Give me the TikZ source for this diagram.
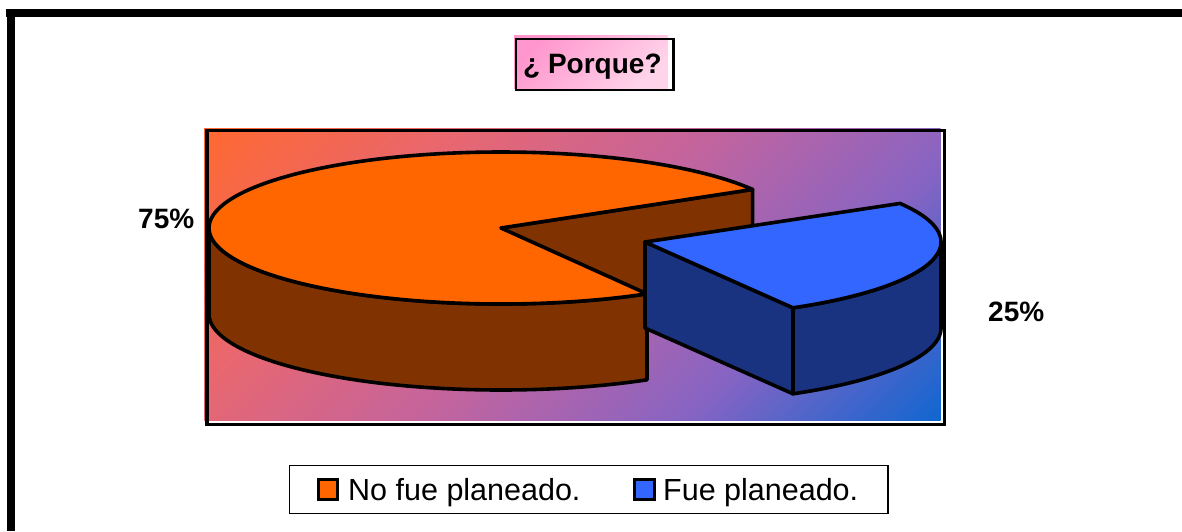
\documentclass[tikz,border=0pt]{standalone}
\usepackage{fontspec}
\setmainfont{Liberation Sans}
\definecolor{orangeTop}{RGB}{255,102,0}
\definecolor{brownSide}{RGB}{128,51,0}
\definecolor{blueTop}{RGB}{51,102,255}
\definecolor{blueSide}{RGB}{26,51,128}
\definecolor{pinkA}{RGB}{255,150,205}
\definecolor{pinkB}{RGB}{255,212,234}
\definecolor{bgA}{RGB}{17,102,208}
\definecolor{bgB}{RGB}{135,100,195}
\definecolor{bgC}{RGB}{195,100,158}
\definecolor{bgD}{RGB}{232,103,112}
\definecolor{bgE}{RGB}{255,104,48}
\pgfdeclareverticalshading{plotbg}{100bp}{color(0bp)=(bgA); color(14.6bp)=(bgA); color(32.3bp)=(bgB); color(50bp)=(bgC); color(67.7bp)=(bgD); color(85.4bp)=(bgE); color(100bp)=(bgE)}
\begin{document}
\begin{tikzpicture}[x=1pt,y=-1pt,
  outl/.style={draw=black, line width=3.6pt, line join=round, line cap=round},
  pct/.style={font=\bfseries\fontsize{28}{30}\selectfont, anchor=base west, inner sep=0pt},
  legtext/.style={font=\fontsize{30.5}{33}\selectfont, anchor=base west, inner sep=0pt},
  legkey/.style={draw=black, line width=3pt}]
\useasboundingbox (0,0) rectangle (1182,531);
% outer frame
\fill[black] (6,9) rectangle (1182,17);
\fill[black] (6.5,9) rectangle (15,531);
% title
\shade[top color=pinkA, bottom color=pinkB, shading angle=45] (514,35) rectangle (668,88);
\draw[line width=2.2pt] (516,39) rectangle (673.5,90);
\node[font=\bfseries\fontsize{28}{30}\selectfont, anchor=base west, inner sep=0pt] (title) at (523,73.5) {¿ Porque?};
% plot area
\shade[shading=plotbg, shading angle=45] (204,128) rectangle (940.5,420);
\draw[line width=3.2pt] (207,130.5) rectangle (944.5,424.5);
% orange slice: back cut face
\draw[outl, fill=brownSide] (501,228) -- ({501+292*cos(30.5)},{228-76*sin(30.5)}) -- ++(0,86) -- (501,314) -- cycle;
% orange front wall
\draw[outl, fill=brownSide] plot[domain=180:300, samples=90] ({501+292*cos(\x)},{228-76*sin(\x)})
  -- plot[domain=300:180, samples=90] ({501+292*cos(\x)},{314-76*sin(\x)}) -- cycle;
% orange top
\draw[outl, fill=orangeTop] (501,228) -- plot[domain=30.5:300, samples=200] ({501+292*cos(\x)},{228-76*sin(\x)}) -- cycle;
% blue slice: left face
\draw[outl, fill=blueSide] (645,242) -- ({645+296*cos(-60)},{242-76*sin(-60)}) -- ++(0,86) -- (645,328) -- cycle;
% blue front wall
\draw[outl, fill=blueSide] plot[domain=-60:0, samples=60] ({645+296*cos(\x)},{242-76*sin(\x)})
  -- plot[domain=0:-60, samples=60] ({645+296*cos(\x)},{328-76*sin(\x)}) -- cycle;
% blue top
\draw[outl, fill=blueTop] (645,242) -- plot[domain=30.5:-60, samples=100] ({645+296*cos(\x)},{242-76*sin(\x)}) -- cycle;
% percentage labels
\node[pct] (p75) at (138,228.3) {75\%};
\node[pct] (p25) at (988,321.7) {25\%};
% legend
\draw[line width=1.5pt] (289.5,465.5) rectangle (888,513.5);
\draw[legkey, fill=orangeTop] (318.2,479.2) rectangle (337.8,499.2);
\node[legtext] (l1) at (348,500) {No fue planeado.};
\draw[legkey, fill=blueTop] (634.5,479.2) rectangle (654,499.2);
\node[legtext] (l2) at (663,500) {Fue planeado.};
\end{tikzpicture}
\end{document}
